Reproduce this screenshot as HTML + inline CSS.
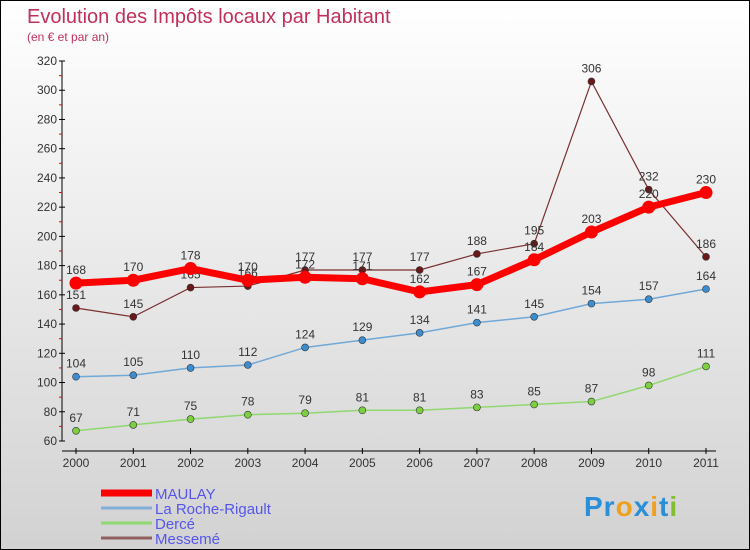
<!DOCTYPE html>
<html><head><meta charset="utf-8"><style>
body{margin:0}
#c{width:748px;height:548px;border:1px solid #000;background:linear-gradient(#fff,#d2d2d2);position:relative;font-family:"Liberation Sans",sans-serif}
svg{position:absolute;left:0;top:0}
</style></head><body>
<div id="c">
<svg id="s" width="748" height="548">
<text x="26" y="22" font-size="20" fill="#c0305a">Evolution des Impôts locaux par Habitant</text>
<text x="26" y="40" font-size="12" fill="#c0305a">(en € et par an)</text>
</svg>
<div style="position:absolute;left:583px;top:490px;font-size:28px;font-weight:bold;letter-spacing:1px"><span style="color:#2a8fd8">Pr</span><span style="color:#f0a020">o</span><span style="color:#2a8fd8">x</span><span style="color:#f0a020">i</span><span style="color:#2a8fd8">t</span><span style="color:#80c030">i</span></div>
</div>
<script>
const years=["2000","2001","2002","2003","2004","2005","2006","2007","2008","2009","2010","2011"];
const yTicks=[60,80,100,120,140,160,180,200,220,240,260,280,300,320];
const maulay=[168,170,178,170,172,171,162,167,184,203,220,230];
const roche=[104,105,110,112,124,129,134,141,145,154,157,164];
const derce=[67,71,75,78,79,81,81,83,85,87,98,111];
const messeme=[151,145,165,166,177,177,177,188,195,306,232,186];
const NS="http://www.w3.org/2000/svg",s=document.getElementById('s');
const X=i=>75+i*(630/11), Y=v=>440-(v-60)/260*380;
function el(t,a,p){const e=document.createElementNS(NS,t);for(const k in a)e.setAttribute(k,a[k]);(p||s).appendChild(e);return e;}
let ax=el('line',{x1:61,y1:Y(320),x2:61,y2:Y(60),stroke:'#000'});


yTicks.forEach((v,i)=>{
 el('line',{x1:58,y1:Y(v),x2:64,y2:Y(v),stroke:'#000'});
 if(i<yTicks.length-1)el('line',{x1:58,y1:Y(v+10),x2:61,y2:Y(v+10),stroke:'#e00'});
 const t=el('text',{x:56,y:Y(v)+4,'font-size':12,fill:'#333','text-anchor':'end'});t.textContent=v;
 
 
});
let xa=el('line',{x1:61,y1:450,x2:715,y2:450,stroke:'#000'});


years.forEach((y,i)=>{
 el('line',{x1:X(i),y1:447,x2:X(i),y2:453,stroke:'#000'});
 const t=el('text',{x:X(i),y:466,'font-size':12,fill:'#333','text-anchor':'middle'});t.textContent=y;
 
 
});
function series(d,col,w,r,fill,name,lab){
 const p=el('polyline',{points:d.map((v,i)=>X(i)+','+Y(v)).join(' '),fill:'none',stroke:col,'stroke-width':w});
 
 
 d.forEach((v,i)=>{const c=el('circle',{cx:X(i),cy:Y(v),r:r,fill:fill,stroke:w>3?'none':'#333','stroke-width':0.6});
  
  
  if(lab){const t=el('text',{x:X(i),y:Y(v)-9,'font-size':12,fill:'#333','text-anchor':'middle'});t.textContent=v;
  
  }
 });
}
series(derce,'#90d870',1.5,3.5,'#7cd040','derce',true);
series(roche,'#70a8d8',1.5,3.5,'#3c8cd0','roche',true);
series(messeme,'#7a3030',1.2,3.5,'#6a1818','messeme',true);
series(maulay,'#f00',7,6.5,'#f00','maulay',true);
const leg=[["MAULAY","#f00",7],["La Roche-Rigault","#80b0d8",3],["Dercé","#90d870",3],["Messemé","#906060",3]];
leg.forEach((l,i)=>{const y=492+i*15;
 el('line',{x1:100,y1:y,x2:151,y2:y,stroke:l[1],'stroke-width':l[2]});
 const t=el('text',{x:154,y:y+6,'font-size':15,fill:'#5555ee'});t.textContent=l[0];
 
 
});
</script>
</body></html>
